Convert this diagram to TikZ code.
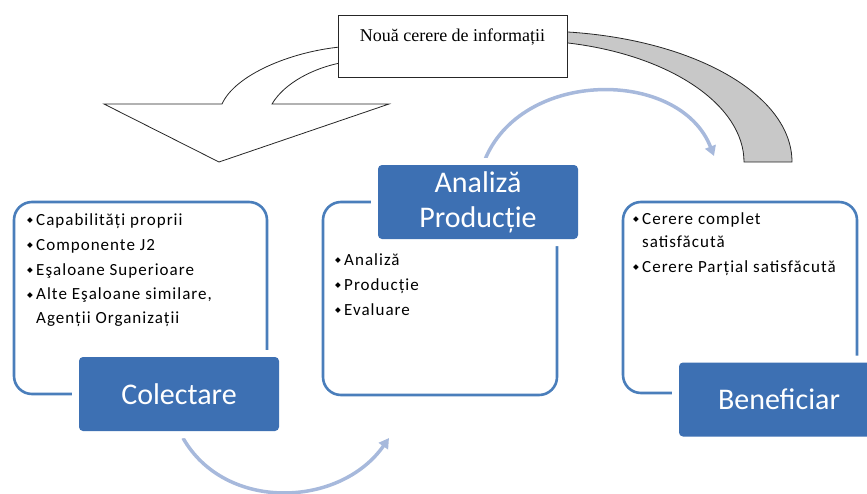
\documentclass[tikz,border=0pt]{standalone}
\usepackage{fontspec}
\usetikzlibrary{arrows.meta}
\newfontfamily\calib{Carlito}[LetterSpace=6]
\newfontfamily\calibt{Carlito}
\newfontfamily\serifb{Liberation Serif}
\newfontfamily\dejavu{DejaVu Sans}
\definecolor{outblue}{RGB}{74,126,187}
\definecolor{fillblue}{RGB}{61,112,179}
\definecolor{lightarr}{RGB}{167,185,220}
\definecolor{bandgray}{RGB}{200,200,200}
\newcommand{\bul}{\makebox[9pt][l]{\raisebox{2.5pt}{\dejavu\fontsize{7.5}{7.5}\selectfont ◆}}}
\tikzset{
  outline/.style={draw=outblue, line width=2.6pt, rounded corners=18pt},
  titlebox/.style={fill=fillblue, rounded corners=4pt, text=white,
    preaction={draw=white, line width=14pt, rounded corners=4pt},
    minimum width=200pt, minimum height=74pt, inner sep=0pt, align=center,
    font=\calibt\fontsize{30}{35}\selectfont},
  itemtext/.style={anchor=base west, inner sep=0pt, font=\calib\fontsize{17}{20}\selectfont},
  lightarrow/.style={draw=lightarr, line width=3.5pt, -{Triangle[length=10pt,width=11pt]}},
  shapeline/.style={draw=black!85, line width=0.8pt}
}
\begin{document}
\begin{tikzpicture}[x=1pt, y=-1pt]
\useasboundingbox (0,0) rectangle (867,493);
% light blue curved arrows
\coordinate (la1s) at (183,438);
\coordinate (la1e) at (389,438);
\draw[lightarrow] (la1s) .. controls (225,512) and (340,508) .. (la1e);
\coordinate (la2s) at (484,162);
\coordinate (la2e) at (714,156);
\draw[lightarrow] (la2s) .. controls (520,68) and (680,68) .. (la2e);
% gray band
\path[shapeline, fill=bandgray] (550,31) -- (568,32) .. controls (695,40) and (792,95) .. (792,162)
  -- (744,162) .. controls (744,105) and (670,55) .. (568,43) -- (550,42) -- cycle;
% white down arrow
\path[shapeline, fill=white] (350,46) -- (340,47) .. controls (290,52) and (235,75) .. (222,104)
  -- (104,104) -- (219,162) -- (389,104) -- (272,104)
  .. controls (285,82) and (315,68) .. (340,63) -- (350,62) -- cycle;
% request box
\node[draw=black!85, line width=0.8pt, fill=white, minimum width=229pt, minimum height=62pt,
  inner sep=0pt] (req) at (452.5,46) {};
\node[font=\serifb\fontsize{18}{20}\selectfont, inner sep=0pt, anchor=base] (reqt) at (452.5,41) {Nouă cerere de informații};
% outlines
\draw[outline] (14,202) rectangle (267,394);
\draw[outline] (323,202) rectangle (557,395);
\draw[outline] (623,202) rectangle (857,393);
% title boxes
\node[titlebox] (col) at (179,394) {Colectare};
\node[titlebox] (ana) at (478,202) {Analiză\\Producție};
\node[titlebox] (ben) at (779,399.5) {Beneficiar};
% items Colectare
\node[itemtext] (c1) at (27,225) {\bul Capabilități proprii};
\node[itemtext] (c2) at (27,250) {\bul Componente J2};
\node[itemtext] (c3) at (27,275) {\bul Eşaloane Superioare};
\node[itemtext] (c4) at (27,299.5) {\bul Alte Eşaloane similare,};
\node[itemtext] (c5) at (36,323.5) {Agenții Organizații};
% items Analiza
\node[itemtext] (a1) at (335,265) {\bul Analiză};
\node[itemtext] (a2) at (335,290) {\bul Producție};
\node[itemtext] (a3) at (335,315) {\bul Evaluare};
% items Beneficiar
\node[itemtext] (b1) at (633,224) {\bul Cerere complet};
\node[itemtext] (b2) at (642,247) {satisfăcută};
\node[itemtext] (b3) at (633,272) {\bul Cerere Parțial satisfăcută};
\end{tikzpicture}
\end{document}
